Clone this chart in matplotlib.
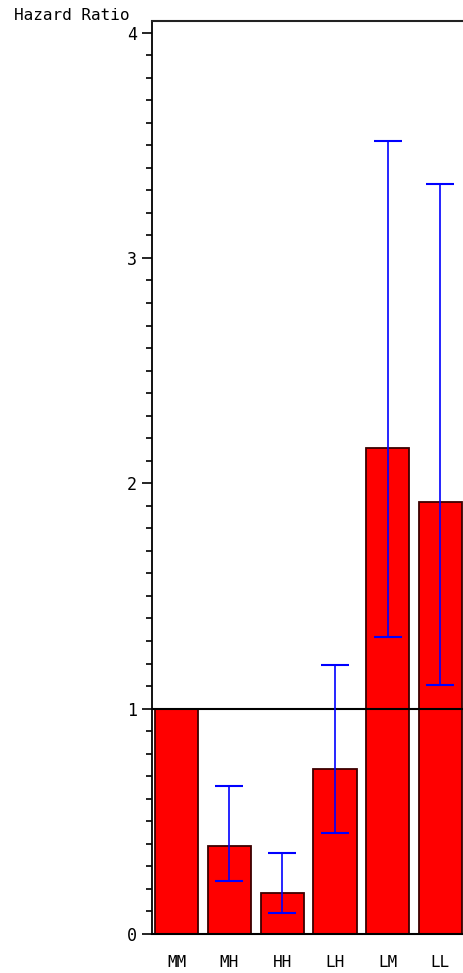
import matplotlib.pyplot as plt
from matplotlib.ticker import MultipleLocator

# Hazard ratios with 95% CI
groups = ['MM', 'MH', 'HH', 'LH', 'LM', 'LL']
hr = [1.0, 0.39, 0.18, 0.73, 2.155, 1.915]
ci_low = [None, 0.235, 0.095, 0.447, 1.316, 1.104]
ci_high = [None, 0.655, 0.358, 1.195, 3.518, 3.329]

fig = plt.figure(figsize=(4.63, 9.73), dpi=100)
ax = fig.add_axes([152 / 463, 39 / 973, 1 - 152 / 463, (933.7 - 21) / 973])

x = list(range(len(groups)))
ax.bar(x, hr, width=0.82, color='#ff0000', edgecolor='#3c0000', linewidth=1.3, zorder=2)

# reference line at HR = 1
ax.axhline(1, color='black', linewidth=1.5, zorder=3)

# confidence intervals (reference group has none)
for xi, lo, hi, v in zip(x, ci_low, ci_high, hr):
    if lo is None:
        continue
    ax.errorbar(xi, v, yerr=[[v - lo], [hi - v]], fmt='none', ecolor='#0000ff',
                elinewidth=1.2, capsize=10, capthick=1.5, zorder=4)

ax.set_xlim(-0.47, 5.43)
ax.set_ylim(0, 4.05)
ax.set_xticks(x)
ax.set_xticklabels(groups, family='DejaVu Sans Mono', fontsize=11.5)
ax.tick_params(axis='x', length=0, pad=15)
ax.set_yticks([0, 1, 2, 3, 4])
ax.yaxis.set_minor_locator(MultipleLocator(0.1))
ax.tick_params(axis='y', which='major', length=7, width=1.2, direction='out',
               labelsize=12, pad=4)
ax.tick_params(axis='y', which='minor', length=4, width=1.2, direction='out')
for lab in ax.get_yticklabels():
    lab.set_family('DejaVu Sans Mono')

ax.spines['right'].set_visible(False)
ax.spines['left'].set_linewidth(1.3)
ax.spines['top'].set_linewidth(1.5)
ax.spines['bottom'].set_linewidth(1.5)
ax.spines['top'].set_color('#222222')

fig.text(14 / 463, 1 - 16 / 973, 'Hazard Ratio', family='DejaVu Sans Mono',
         fontsize=11.5, ha='left', va='center')

fig.savefig('out.png', dpi=100)
